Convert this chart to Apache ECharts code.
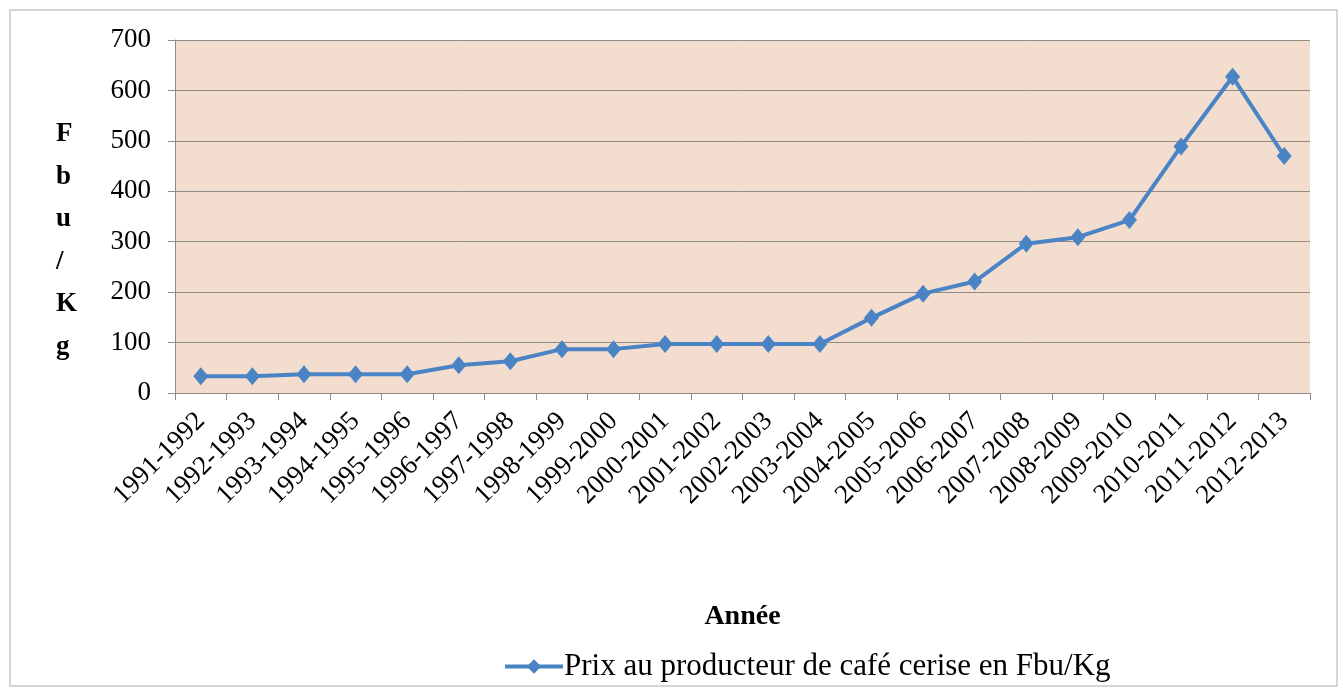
<!DOCTYPE html>
<html>
<head>
<meta charset="utf-8">
<script src="https://cdn.jsdelivr.net/npm/echarts@6/dist/echarts.min.js"></script>
<style>
  html, body { margin: 0; padding: 0; background: #fff; }
  #chart { width: 1343px; height: 690px; }
</style>
</head>
<body>
<div id="chart"></div>
<script>
var years = ['1991-1992', '1992-1993', '1993-1994', '1994-1995', '1995-1996', '1996-1997',
  '1997-1998', '1998-1999', '1999-2000', '2000-2001', '2001-2002', '2002-2003', '2003-2004',
  '2004-2005', '2005-2006', '2006-2007', '2007-2008', '2008-2009', '2009-2010', '2010-2011',
  '2011-2012', '2012-2013']
var prix = [33, 33, 37, 37, 37, 55, 63, 87, 87, 97, 97, 97, 97, 149, 197, 221, 296, 309, 343, 489, 627, 470]
var seriesName = 'Prix au producteur de café cerise en Fbu/Kg'

var chart = echarts.init(document.getElementById('chart'))
var serif = '"Liberation Serif", "DejaVu Serif", serif'

chart.setOption({
  animation: false,
  textStyle: { fontFamily: serif },
  graphic: [
    {
      type: 'rect',
      shape: { x: 10, y: 10, width: 1327, height: 676 },
      style: { fill: 'none', stroke: '#c8c8c8', lineWidth: 1.5 },
      z: -10
    },
    {
      type: 'text',
      left: 56,
      top: 113,
      style: {
        text: 'F\nb\nu\n/\nK\ng',
        font: 'bold 27px ' + serif,
        fill: '#000',
        lineHeight: 42.5,
        align: 'center'
      }
    }
  ],
  legend: {
    left: 498,
    top: 646,
    itemWidth: 58,
    itemHeight: 18,
    itemGap: 10,
    lineStyle: { width: 4 },
    textStyle: { fontSize: 31, color: '#000', fontFamily: serif, padding: [0, 0, 0, -4] },
    data: [seriesName]
  },
  grid: {
    show: true,
    backgroundColor: '#f3ddcf',
    borderWidth: 0,
    left: 175,
    right: 33,
    top: 40,
    bottom: 297
  },
  xAxis: {
    type: 'category',
    data: years,
    name: 'Année',
    nameLocation: 'middle',
    nameGap: 210,
    nameTextStyle: { fontSize: 28, fontWeight: 'bold', color: '#000', fontFamily: serif },
    boundaryGap: true,
    axisLine: { lineStyle: { color: '#8c8c8c' } },
    axisTick: { show: true, alignWithLabel: false, length: 7, lineStyle: { color: '#8c8c8c' } },
    axisLabel: {
      rotate: 45,
      interval: 0,
      fontSize: 27,
      color: '#000',
      margin: 24,
      fontFamily: serif
    }
  },
  yAxis: {
    type: 'value',
    min: 0,
    max: 700,
    interval: 100,
    axisLine: { show: true, lineStyle: { color: '#8c8c8c' } },
    axisTick: { show: true, length: 7, lineStyle: { color: '#8c8c8c' } },
    axisLabel: { fontSize: 27, color: '#000', margin: 24, fontFamily: serif },
    splitLine: { lineStyle: { color: '#8f8a86', width: 1 } }
  },
  series: [
    {
      name: seriesName,
      type: 'line',
      data: prix,
      symbol: 'diamond',
      symbolSize: [15, 18],
      lineStyle: { color: '#4a84c4', width: 4 },
      itemStyle: { color: '#4a84c4' }
    }
  ]
})
</script>
</body>
</html>
